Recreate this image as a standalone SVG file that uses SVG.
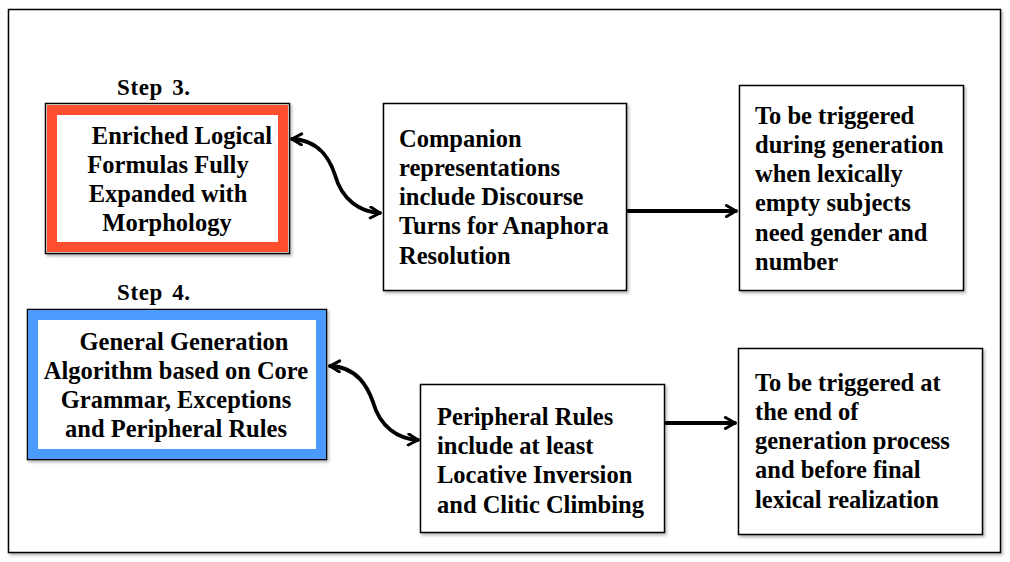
<svg xmlns="http://www.w3.org/2000/svg" width="1010" height="562" viewBox="0 0 1010 562">
<defs>
<style>
.t{font-family:"Liberation Serif","DejaVu Serif",serif;font-weight:bold;font-size:24.5px;fill:#000;}
.c{text-anchor:middle;}
.s{font-family:"Liberation Serif","DejaVu Serif",serif;font-weight:bold;font-size:23px;fill:#000;word-spacing:3px;letter-spacing:0.6px;}
.box{fill:#fff;stroke:#000;stroke-width:1.5;}
.ln{fill:none;stroke:#000;stroke-width:3.8;stroke-linecap:round;}
</style>
<filter id="sh" x="-5%" y="-5%" width="115%" height="115%">
<feDropShadow dx="1.5" dy="2" stdDeviation="1.5" flood-color="#000" flood-opacity="0.3"/>
</filter>
<marker id="ah" viewBox="0 0 14 14" refX="12" refY="7" markerWidth="14" markerHeight="14" markerUnits="userSpaceOnUse" orient="auto-start-reverse">
<path d="M2.5,1.5 L12,7 L2.5,12.5" fill="none" stroke="#000" stroke-width="3" stroke-linecap="round" stroke-linejoin="round"/>
</marker>
</defs>
<rect width="1010" height="562" fill="#fff"/>
<rect x="8.5" y="9.5" width="992" height="543" fill="#fff" stroke="#000" stroke-width="1.5" filter="url(#sh)"/>

<g id="step3label"><text class="s" x="117" y="95">Step 3.</text></g>
<g id="step4label"><text class="s" x="117" y="300">Step 4.</text></g>

<g id="node-enriched">
<rect x="45.5" y="103.5" width="244" height="150" fill="#fff" stroke="#000" stroke-width="1.5" filter="url(#sh)"/>
<rect x="52" y="110" width="231" height="137" fill="#fff" stroke="#ff4f2e" stroke-width="10"/>
<text class="t c" x="182" y="144">Enriched Logical</text>
<text class="t c" x="168" y="173">Formulas Fully</text>
<text class="t c" x="168" y="202">Expanded with</text>
<text class="t c" x="167" y="231">Morphology</text>
</g>

<g id="node-general">
<rect x="27.5" y="309.5" width="299" height="150" fill="#fff" stroke="#000" stroke-width="1.5" filter="url(#sh)"/>
<rect x="33" y="315" width="288" height="139" fill="#fff" stroke="#4b9bff" stroke-width="10"/>
<text class="t c" x="184" y="350">General Generation</text>
<text class="t c" x="176" y="379">Algorithm based on Core</text>
<text class="t c" x="176" y="408">Grammar, Exceptions</text>
<text class="t c" x="176" y="437">and Peripheral Rules</text>
</g>

<g id="node-companion">
<rect class="box" x="383.5" y="103.5" width="243" height="187" filter="url(#sh)"/>
<text class="t" x="399" y="147">Companion</text>
<text class="t" x="399" y="176">representations</text>
<text class="t" x="399" y="205">include Discourse</text>
<text class="t" x="399" y="234">Turns for Anaphora</text>
<text class="t" x="399" y="264">Resolution</text>
</g>

<g id="node-trigger1">
<rect class="box" x="739.5" y="85.5" width="224" height="205" filter="url(#sh)"/>
<text class="t" x="755" y="124">To be triggered</text>
<text class="t" x="755" y="153">during generation</text>
<text class="t" x="755" y="182">when lexically</text>
<text class="t" x="755" y="211">empty subjects</text>
<text class="t" x="755" y="241">need gender and</text>
<text class="t" x="755" y="270">number</text>
</g>

<g id="node-peripheral">
<rect class="box" x="420.5" y="384.5" width="244" height="148" filter="url(#sh)"/>
<text class="t" x="437" y="425">Peripheral Rules</text>
<text class="t" x="437" y="454">include at least</text>
<text class="t" x="437" y="483">Locative Inversion</text>
<text class="t" x="437" y="513">and Clitic Climbing</text>
</g>

<g id="node-trigger2">
<rect class="box" x="738.5" y="348.5" width="244" height="186" filter="url(#sh)"/>
<text class="t" x="755" y="391">To be triggered at</text>
<text class="t" x="755" y="420">the end of</text>
<text class="t" x="755" y="449">generation process</text>
<text class="t" x="755" y="478">and before final</text>
<text class="t" x="755" y="508">lexical realization</text>
</g>

<g id="connectors">
<path class="ln" d="M292,139 C320,140 330,160 335,175 C342,200 360,212 380,213" marker-start="url(#ah)" marker-end="url(#ah)"/>
<path class="ln" d="M330,366 C358,367 368,388 373,402 C380,427 398,439 418,440" marker-start="url(#ah)" marker-end="url(#ah)"/>
<line class="ln" x1="628" y1="211" x2="736" y2="211" marker-end="url(#ah)"/>
<line class="ln" x1="666" y1="423" x2="735" y2="423" marker-end="url(#ah)"/>
</g>
</svg>
